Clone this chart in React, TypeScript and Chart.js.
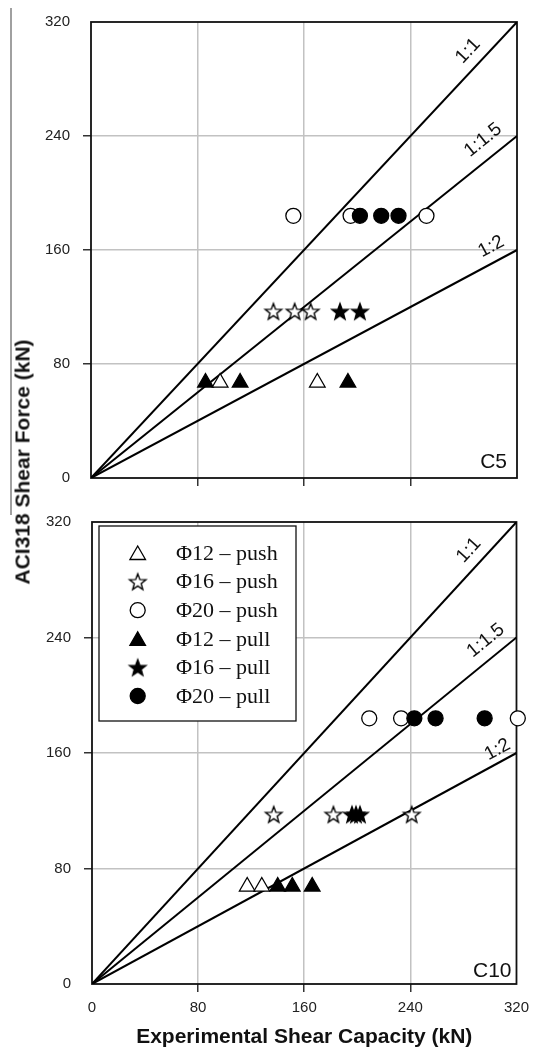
import React, { useEffect, useRef } from "react";
import { Chart, registerables } from "chart.js";

Chart.register(...registerables);

const SANS = '"Liberation Sans", Arial, Helvetica, sans-serif';
const SERIF = '"Liberation Serif", "Times New Roman", Times, serif';

// ---- data ----
const xTickValues = [0, 80, 160, 240, 320];
const yTickValues = [0, 80, 160, 240, 320];
const seriesNames = ["Φ12 – push", "Φ16 – push", "Φ20 – push", "Φ12 – pull", "Φ16 – pull", "Φ20 – pull"];
const ratioNames = ["1:1", "1:1.5", "1:2"];
const ratioEndX = 320;
const ratioEndY = [320, 240, 160];
const panelNames = ["C5", "C10"];
const xTitle = "Experimental Shear Capacity (kN)";
const yTitle = "ACI318 Shear Force (kN)";

// C5 panel: [experimental shear capacity, ACI318 shear force]
const c5Phi12Push = [[97, 67], [170, 67]];
const c5Phi16Push = [[137, 117], [153, 117], [165, 117]];
const c5Phi20Push = [[152, 184], [195, 184], [252, 184]];
const c5Phi12Pull = [[86, 67], [112, 67], [193, 67]];
const c5Phi16Pull = [[187, 117], [202, 117]];
const c5Phi20Pull = [[202, 184], [218, 184], [231, 184]];

// C10 panel
const c10Phi12Push = [[117, 67.5], [128, 67.5]];
const c10Phi16Push = [[137, 117.5], [182, 117.5], [241, 117.5]];
const c10Phi20Push = [[209, 184], [233, 184], [321, 184]];
const c10Phi12Pull = [[140, 67.5], [151, 67.5], [166, 67.5]];
const c10Phi16Pull = [[196, 117.5], [199, 117.5], [202, 117.5]];
const c10Phi20Pull = [[243, 184], [259, 184], [296, 184]];

const panelC5 = [c5Phi12Push, c5Phi16Push, c5Phi20Push, c5Phi12Pull, c5Phi16Pull, c5Phi20Pull];
const panelC10 = [c10Phi12Push, c10Phi16Push, c10Phi20Push, c10Phi12Pull, c10Phi16Pull, c10Phi20Pull];

// ---- styles ----
const markerKind = ["triangle", "star", "circle", "triangle", "star", "circle"];
const markerFilled = [false, false, false, true, true, true];
const markerOrder = [0, 1, 2, 1, 0, 0];
const TRI_R = 9;
const CIRC_R = 7.5;

function makeStar(filled: boolean): HTMLCanvasElement {
  const size = 22;
  const c = document.createElement("canvas");
  c.width = size;
  c.height = size;
  const ctx = c.getContext("2d")!;
  const cx = size / 2;
  const cy = size / 2 + 0.8;
  const R = 8.6;
  const r = 3.6;
  ctx.beginPath();
  for (let i = 0; i < 10; i++) {
    const a = -Math.PI / 2 + (i * Math.PI) / 5;
    const rad = i % 2 === 0 ? R : r;
    const px = cx + rad * Math.cos(a);
    const py = cy + rad * Math.sin(a);
    if (i === 0) ctx.moveTo(px, py);
    else ctx.lineTo(px, py);
  }
  ctx.closePath();
  ctx.fillStyle = filled ? "#000" : "#fff";
  ctx.fill();
  ctx.lineWidth = 1.4;
  ctx.lineJoin = "miter";
  ctx.strokeStyle = "#000";
  ctx.stroke();
  return c;
}

const interior = (v: any) => typeof v === "number" && v > 0 && v < 320;

type PanelParams = {
  series: number[][][];
  bottom: boolean;
  padTop: number;
  padRight: number;
  yWidth: number;
  xHeight: number;
  name: string;
  nameRightGap: number;
  nameBottomGap: number;
  labels: { xa: number; perp: number }[];
  stars: HTMLCanvasElement[];
};

function drawMarker(ctx: CanvasRenderingContext2D, i: number, x: number, y: number, stars: HTMLCanvasElement[]) {
  const kind = markerKind[i];
  const filled = markerFilled[i];
  if (kind === "star") {
    const img = stars[filled ? 1 : 0];
    ctx.drawImage(img, x - img.width / 2, y - img.height / 2);
    return;
  }
  ctx.save();
  ctx.beginPath();
  if (kind === "triangle") {
    for (let k = 0; k < 3; k++) {
      const a = -Math.PI / 2 + (k * 2 * Math.PI) / 3;
      const px = x + TRI_R * Math.cos(a);
      const py = y + TRI_R * Math.sin(a);
      if (k === 0) ctx.moveTo(px, py);
      else ctx.lineTo(px, py);
    }
    ctx.closePath();
  } else {
    ctx.arc(x, y, CIRC_R, 0, Math.PI * 2);
  }
  ctx.fillStyle = filled ? "#000" : "#fff";
  ctx.fill();
  ctx.lineWidth = 1.3;
  ctx.strokeStyle = "#000";
  ctx.stroke();
  ctx.restore();
}

function buildConfig(p: PanelParams): any {
  const lineSets = ratioNames.map((n, i) => ({
    type: "line",
    label: n,
    data: [
      { x: 0, y: 0 },
      { x: ratioEndX, y: ratioEndY[i] },
    ],
    borderColor: "#000",
    borderWidth: 2,
    pointRadius: 0,
    fill: false,
    order: 10,
  }));
  const scatterSets = p.series.map((pts, i) => ({
    type: "scatter",
    label: seriesNames[i],
    data: pts.map(([x, y]) => ({ x, y })),
    pointStyle: markerKind[i] === "star" ? p.stars[markerFilled[i] ? 1 : 0] : markerKind[i],
    pointRadius: markerKind[i] === "triangle" ? TRI_R : markerKind[i] === "circle" ? CIRC_R : 8,
    backgroundColor: markerFilled[i] ? "#000" : "#fff",
    borderColor: "#000",
    borderWidth: 1.3,
    clip: false,
    order: markerOrder[i],
  }));

  const framePlugin = {
    id: "frameAndLegend",
    beforeDatasetsDraw(chart: any) {
      const { ctx, chartArea: ca } = chart;
      ctx.save();
      ctx.lineWidth = 1.8;
      ctx.strokeStyle = "#111";
      ctx.strokeRect(ca.left, ca.top, ca.right - ca.left, ca.bottom - ca.top);
      if (p.bottom) {
        const bx = ca.left + 7;
        const by = ca.top + 4;
        const bw = 197;
        const bh = 195;
        ctx.fillStyle = "#fff";
        ctx.fillRect(bx, by, bw, bh);
        ctx.lineWidth = 1.3;
        ctx.strokeStyle = "#111";
        ctx.strokeRect(bx, by, bw, bh);
        ctx.font = `22px ${SERIF}`;
        ctx.fillStyle = "#111";
        ctx.textAlign = "left";
        ctx.textBaseline = "middle";
        seriesNames.forEach((n, i) => {
          const ry = ca.top + 31 + i * 28.6;
          const my = markerKind[i] === "triangle" ? ry + 2 : ry;
          drawMarker(ctx, i, ca.left + 45.7, my, p.stars);
          ctx.fillStyle = "#111";
          ctx.fillText(n, ca.left + 84, ry + 1);
        });
      }
      ctx.restore();
    },
    afterDatasetsDraw(chart: any) {
      const { ctx, chartArea: ca } = chart;
      const xs = chart.scales.x;
      const ys = chart.scales.y;
      ctx.save();
      ratioNames.forEach((n, i) => {
        const slope = ratioEndY[i] / ratioEndX;
        const x0 = xs.getPixelForValue(0);
        const y0 = ys.getPixelForValue(0);
        const x1 = xs.getPixelForValue(ratioEndX);
        const y1 = ys.getPixelForValue(ratioEndY[i]);
        const ang = Math.atan2(y1 - y0, x1 - x0);
        const { xa, perp } = p.labels[i];
        const px = xs.getPixelForValue(xa);
        const py = ys.getPixelForValue(xa * slope);
        ctx.save();
        ctx.translate(px, py);
        ctx.rotate(ang);
        ctx.font = `19px ${SANS}`;
        ctx.fillStyle = "#111";
        ctx.textAlign = "center";
        ctx.textBaseline = "middle";
        ctx.fillText(n, 0, -perp);
        ctx.restore();
      });
      ctx.font = `21px ${SANS}`;
      ctx.fillStyle = "#111";
      ctx.textAlign = "right";
      ctx.textBaseline = "alphabetic";
      ctx.fillText(p.name, ca.right - p.nameRightGap, ca.bottom - p.nameBottomGap);
      ctx.restore();
    },
  };

  return {
    type: "scatter",
    data: { datasets: [...lineSets, ...scatterSets] },
    options: {
      responsive: false,
      animation: false,
      devicePixelRatio: 1,
      layout: { padding: { top: p.padTop, right: p.padRight, left: 0, bottom: 0 } },
      plugins: { legend: { display: false }, tooltip: { enabled: false } },
      scales: {
        x: {
          type: "linear",
          min: 0,
          max: 320,
          afterBuildTicks: (s: any) => {
            s.ticks = xTickValues.map((v) => ({ value: v }));
          },
          afterFit: (s: any) => {
            s.height = p.xHeight;
          },
          grid: {
            color: (c: any) => (interior(c.tick && c.tick.value) ? "#c2c2c2" : "rgba(0,0,0,0)"),
            tickColor: (c: any) => (interior(c.tick && c.tick.value) ? "#333" : "rgba(0,0,0,0)"),
            lineWidth: 1.5,
            tickWidth: 1.5,
            tickLength: 8,
            drawTicks: true,
          },
          border: { display: false },
          ticks: {
            autoSkip: false,
            maxRotation: 0,
            padding: 7,
            color: "#222",
            font: { family: SANS, size: 15 },
            callback: (v: any) => (p.bottom ? String(v) : ""),
          },
          title: p.bottom
            ? {
                display: true,
                text: xTitle,
                color: "#111",
                font: { family: SANS, size: 21, weight: "bold" },
                padding: { top: 0, bottom: 0 },
              }
            : { display: false },
        },
        y: {
          type: "linear",
          min: 0,
          max: 320,
          afterBuildTicks: (s: any) => {
            s.ticks = yTickValues.map((v) => ({ value: v }));
          },
          afterFit: (s: any) => {
            s.width = p.yWidth;
          },
          grid: {
            color: (c: any) => (interior(c.tick && c.tick.value) ? "#c2c2c2" : "rgba(0,0,0,0)"),
            tickColor: (c: any) => (interior(c.tick && c.tick.value) ? "#333" : "rgba(0,0,0,0)"),
            lineWidth: 1.5,
            tickWidth: 1.5,
            tickLength: 8,
            drawTicks: true,
          },
          border: { display: false },
          ticks: {
            autoSkip: false,
            padding: 13,
            color: "#222",
            font: { family: SANS, size: 15 },
            callback: (v: any) => String(v),
          },
        },
      },
    },
    plugins: [framePlugin],
  };
}

export default function App() {
  const topRef = useRef<HTMLCanvasElement>(null);
  const botRef = useRef<HTMLCanvasElement>(null);

  useEffect(() => {
    const stars = [makeStar(false), makeStar(true)];
    const c1 = new Chart(
      topRef.current!,
      buildConfig({
        series: panelC5,
        bottom: false,
        padTop: 15,
        padRight: 19,
        yWidth: 91,
        xHeight: 13,
        name: panelNames[0],
        nameRightGap: 10,
        nameBottomGap: 10,
        labels: [
          { xa: 292, perp: 16 },
          { xa: 303, perp: 18 },
          { xa: 306, perp: 15 },
        ],
        stars,
      })
    );
    const c2 = new Chart(
      botRef.current!,
      buildConfig({
        series: panelC10,
        bottom: true,
        padTop: 12,
        padRight: 18,
        yWidth: 92,
        xHeight: 66,
        name: panelNames[1],
        nameRightGap: 5,
        nameBottomGap: 7,
        labels: [
          { xa: 293, perp: 16 },
          { xa: 305, perp: 17 },
          { xa: 310, perp: 12 },
        ],
        stars,
      })
    );
    return () => {
      c1.destroy();
      c2.destroy();
    };
  }, []);

  return (
    <div style={{ position: "fixed", left: 0, top: 0, width: 536, height: 1050, background: "#fff", overflow: "hidden" }}>
      <div style={{ position: "absolute", left: 10, top: 8, width: 1.5, height: 507, background: "#a0a0a0" }} />
      <canvas ref={topRef} width={536} height={500} style={{ position: "absolute", left: 0, top: 0, width: 536, height: 500 }} />
      <canvas ref={botRef} width={536} height={550} style={{ position: "absolute", left: 0, top: 500, width: 536, height: 550 }} />
      <div
        style={{
          position: "absolute",
          left: 22,
          top: 462,
          transform: "translate(-50%, -50%) rotate(-90deg)",
          whiteSpace: "nowrap",
          fontFamily: SANS,
          fontWeight: "bold",
          fontSize: 21,
          color: "#111",
          lineHeight: 1,
        }}
      >
        {yTitle}
      </div>
    </div>
  );
}
